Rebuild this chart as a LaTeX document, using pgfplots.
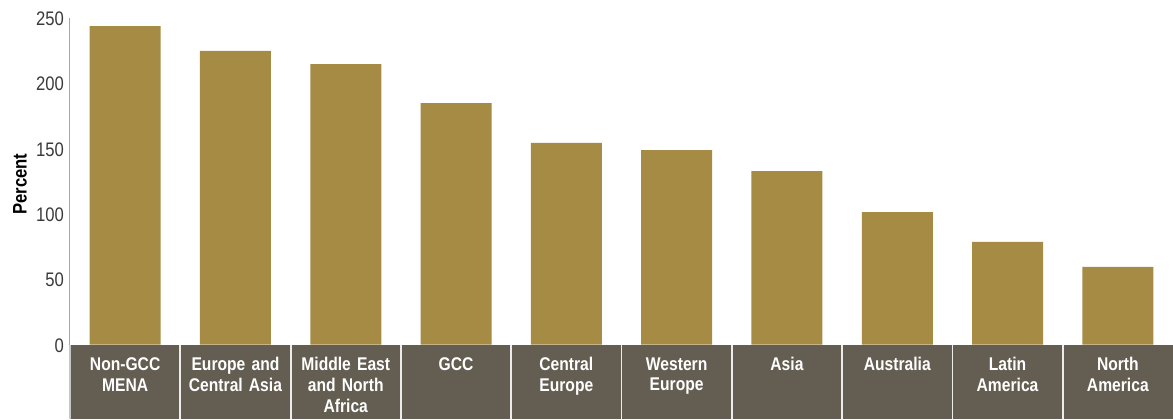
\documentclass[border=0pt]{standalone}
\usepackage{pgfplots}
\pgfplotsset{compat=1.18}
\usepackage{fontspec}
\setmainfont{Liberation Sans}[FakeStretch=0.85, WordSpace=0.75]
\definecolor{bargold}{HTML}{A68B45}
\definecolor{boxgray}{HTML}{645D52}
\definecolor{tickgray}{HTML}{3A3A3A}
\begin{document}
\begin{tikzpicture}[x=1pt,y=1pt]
\useasboundingbox (0,0) rectangle (586.5,209.5);
\fill[boxgray] (35,0) rectangle (586.5,37);
\fill[gray!45] (34.6,0) rectangle (35.4,37);
\foreach \i in {1,...,9} {\fill[white!85!gray] ({35+\i*55.15-0.45},0) rectangle ({35+\i*55.15+0.45},37);}
\begin{axis}[
  at={(35pt,37.25pt)}, anchor=south west,
  scale only axis, width=551.5pt, height=163.5pt,
  xmin=-0.5, xmax=9.5, ymin=0, ymax=250,
  axis x line=bottom, axis y line=left,
  x axis line style={draw=none},
  y axis line style={-, draw=gray!70, line width=0.5pt},
  major tick length=0pt,
  ytick={0,50,100,150,200,250},
  xtick={0,...,9},
  xticklabels={{Non-GCC\\MENA},{Europe and\\Central Asia},{Middle East\\and North\\Africa},{GCC},{Central\\Europe},{Western\\Europe},{Asia},{Australia},{Latin\\America},{North\\America}},
  xticklabel style={text=white, font=\bfseries\fontsize{9.2}{10.3}\selectfont, align=center, text width=54pt, anchor=north, yshift=-3pt},
  yticklabel style={text=tickgray, font=\fontsize{9.8}{11}\selectfont, xshift=0.5pt, yshift=-0.5pt},
  /pgf/number format/assume math mode=true,
  ylabel={\bfseries Percent},
  ylabel style={font=\fontsize{9.8}{11}\selectfont, at={(axis description cs:-0.0453,0.49)}, anchor=center},
  clip=false,
]
\addplot[ybar, bar width=35.5pt, fill=bargold, draw=none] coordinates {
(0,243.5) (1,224.4) (2,214.4) (3,184.6) (4,154.1) (5,148.7) (6,132.6) (7,101.3) (8,78.4) (9,59.3)};
\end{axis}
\end{tikzpicture}
\end{document}
